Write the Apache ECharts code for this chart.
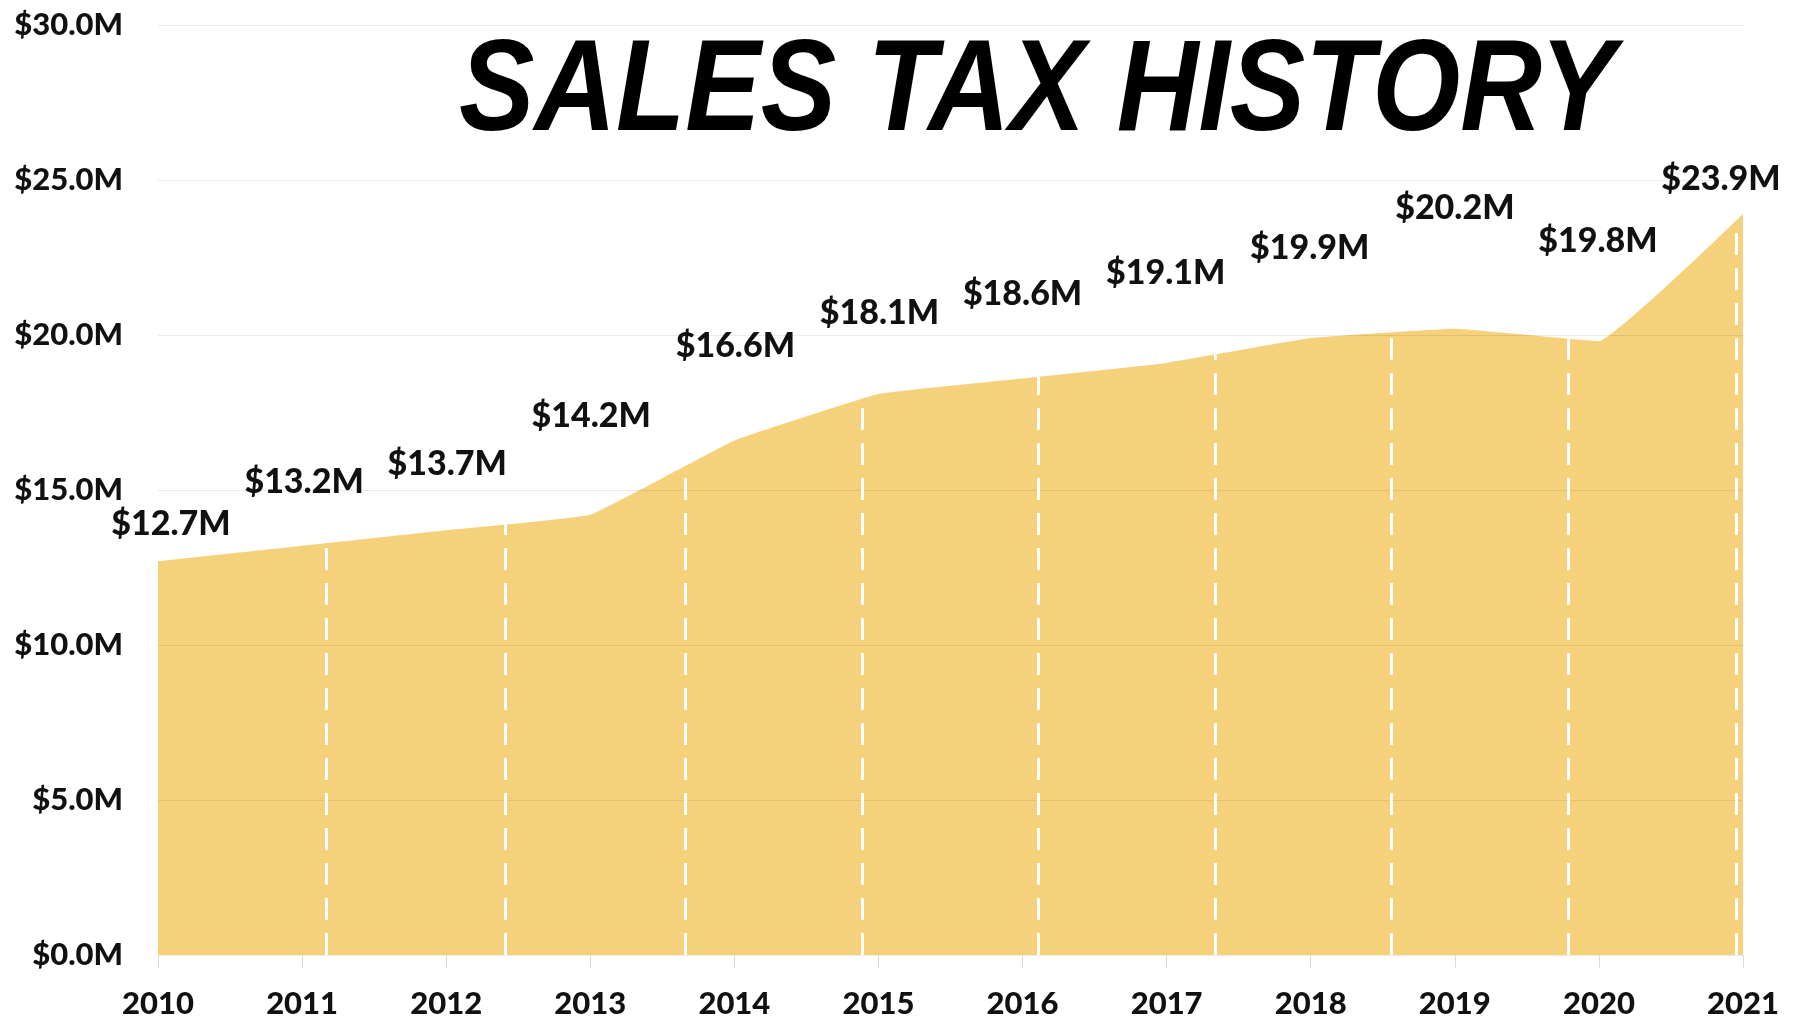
<!DOCTYPE html>
<html>
<head>
<meta charset="utf-8">
<script src="https://cdn.jsdelivr.net/npm/echarts@6/dist/echarts.min.js"></script>
<style>
  html, body { margin: 0; padding: 0; background: #ffffff; }
  #chart { width: 1800px; height: 1021px; }
</style>
</head>
<body>
<div id="chart"></div>
<script>
// ---- data (millions of dollars) ----
const years = [2010, 2011, 2012, 2013, 2014, 2015, 2016, 2017, 2018, 2019, 2020, 2021];
const salesTax = [12.7, 13.2, 13.7, 14.2, 16.6, 18.1, 18.6, 19.1, 19.9, 20.2, 19.8, 23.9];
const yTicks = [0, 5, 10, 15, 20, 25, 30];
const titleText = 'SALES TAX HISTORY';
// white dashed guide lines (x position in years)
const dashYears = [2011.17, 2012.41, 2013.66, 2014.89, 2016.11, 2017.34, 2018.56, 2019.79, 2020.95];

// ---- layout only (label shifts in px relative to each point) ----
const labelShift = [[13,-37],[2,-64],[1,-66],[1,-99],[1,-94],[1,-81],[0,-84],[-1,-90],[-1,-90],[0,-121],[-1,-100],[-22,-35]];

function valueAt(x) {
  for (let i = 0; i < years.length - 1; i++) {
    if (x >= years[i] && x <= years[i + 1]) {
      const t = (x - years[i]) / (years[i + 1] - years[i]);
      return salesTax[i] + t * (salesTax[i + 1] - salesTax[i]);
    }
  }
  return salesTax[salesTax.length - 1];
}

const fmt = v => '$' + v.toFixed(1) + 'M';
const FONT = 'Lato';
const WEIGHT = 900;

const seriesData = years.map((y, i) => ({
  value: [y, salesTax[i]],
  label: { offset: labelShift[i] }
}));

const dashLines = dashYears.map(x => [
  { coord: [x, 0] },
  { coord: [x, valueAt(x)] }
]);

const chart = echarts.init(document.getElementById('chart'), null, { renderer: 'canvas' });
chart.setOption({
  animation: false,
  backgroundColor: '#ffffff',
  grid: { left: 158, right: 57, top: 25, bottom: 66, containLabel: false },
  xAxis: {
    type: 'value',
    min: years[0],
    max: years[years.length - 1],
    interval: 1,
    z: 5,
    axisLine: { show: false },
    axisTick: { show: true, length: 13, lineStyle: { color: '#dcdcdc', width: 1 } },
    splitLine: { show: false },
    axisLabel: {
      margin: 33,
      formatter: v => String(v),
      color: '#111111',
      fontFamily: FONT,
      fontWeight: WEIGHT,
      fontSize: 31
    }
  },
  yAxis: {
    type: 'value',
    min: yTicks[0],
    max: yTicks[yTicks.length - 1],
    interval: 5,
    z: 5,
    axisLine: { show: false },
    axisTick: { show: false },
    splitLine: { show: true, lineStyle: { color: 'rgba(0,0,0,0.08)', width: 1 } },
    axisLabel: {
      margin: 35,
      formatter: v => fmt(v),
      color: '#111111',
      fontFamily: FONT,
      fontWeight: WEIGHT,
      fontSize: 31
    }
  },
  graphic: [{
    type: 'text',
    x: 459,
    y: 94,
    scaleX: 0.87,
    z: 10,
    style: {
      text: titleText,
      fill: '#000000',
      font: 'italic bold 130px "Liberation Sans", Arial, sans-serif',
      align: 'left',
      verticalAlign: 'middle'
    }
  }],
  series: [{
    type: 'line',
    data: seriesData,
    smooth: 0.08,
    symbol: 'circle',
    symbolSize: 1,
    itemStyle: { color: 'rgba(0,0,0,0)' },
    lineStyle: { width: 0, color: '#F5D17C' },
    areaStyle: { color: '#F5D17C', opacity: 1 },
    label: {
      show: true,
      position: 'inside',
      formatter: p => fmt(p.value[1]),
      color: '#111111',
      fontFamily: FONT,
      fontWeight: WEIGHT,
      fontSize: 34
    },
    markLine: {
      silent: true,
      symbol: ['none', 'none'],
      label: { show: false },
      lineStyle: { color: '#ffffff', width: 3, type: [22, 13], opacity: 1 },
      data: dashLines
    }
  }]
});
</script>
</body>
</html>
